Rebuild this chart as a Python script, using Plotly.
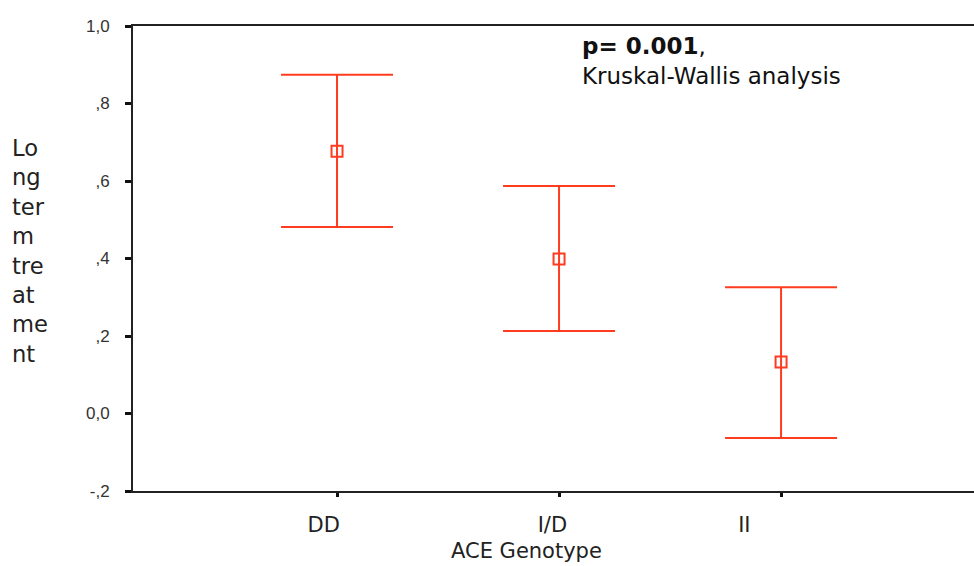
import plotly.graph_objects as go

categories = ["DD", "I/D", "II"]
means = [0.677, 0.399, 0.133]
upper = [0.874, 0.587, 0.326]
lower = [0.481, 0.213, -0.063]
ytick_vals = [-0.2, 0.0, 0.2, 0.4, 0.6, 0.8, 1.0]
ytick_text = ["-,2", "0,0", ",2", ",4", ",6", ",8", "1,0"]

# trailing padding (style) to reproduce the left-shifted labels of the original
label_pad = [4, 2, 11]

xs = list(range(len(categories)))
col = "#ff3b20"

fig = go.Figure()
fig.add_trace(go.Scatter(
    x=xs, y=means, mode="markers",
    marker=dict(symbol="square-open", size=11, color=col, line=dict(width=2, color=col)),
    error_y=dict(type="data", symmetric=False,
                 array=[u - m for u, m in zip(upper, means)],
                 arrayminus=[m - l for m, l in zip(means, lower)],
                 color=col, thickness=2, width=56),
    showlegend=False,
))

fig.update_layout(
    width=974, height=566,
    margin=dict(l=133, r=0, t=26, b=75),
    paper_bgcolor="white", plot_bgcolor="white",
    xaxis=dict(range=[-0.919, 2.869], tickvals=xs,
               ticktext=[c + "\u00a0" * p for c, p in zip(categories, label_pad)],
               showgrid=False, zeroline=False, showline=True, mirror=True,
               linecolor="#222", linewidth=2, ticks="outside", ticklen=4, tickwidth=3,
               tickcolor="#111", ticklabelstandoff=10,
               tickfont=dict(family="DejaVu Sans", size=21, color="#222")),
    yaxis=dict(range=[-0.2, 1.0], tickvals=ytick_vals, ticktext=ytick_text,
               showgrid=False, zeroline=False, showline=True,
               linecolor="#222", linewidth=2, ticks="outside", ticklen=6, tickwidth=3,
               tickcolor="#111", ticklabelstandoff=12,
               tickfont=dict(family="Liberation Sans", size=17, color="#333")),
    annotations=[
        dict(xref="paper", yref="paper", x=(526 - 133) / 841, y=(491 - 551) / 465,
             xanchor="center", yanchor="middle", showarrow=False,
             text="ACE Genotype",
             font=dict(family="DejaVu Sans", size=21, color="#222")),
        dict(xref="paper", yref="paper", x=(10 - 133) / 841, y=(491 - 133) / 465,
             xanchor="left", yanchor="top", align="left", showarrow=False,
             text="Lo<br>ng<br>ter<br>m<br>tre<br>at<br>me<br>nt",
             font=dict(family="DejaVu Sans", size=22.6, color="#222")),
        dict(xref="paper", yref="paper", x=(580 - 133) / 841, y=(491 - 31) / 465,
             xanchor="left", yanchor="top", align="left", showarrow=False,
             text="<b>p= 0.001</b>,<br>Kruskal-Wallis analysis",
             font=dict(family="DejaVu Sans", size=23, color="#111")),
    ],
)

fig.write_html("out.html")
